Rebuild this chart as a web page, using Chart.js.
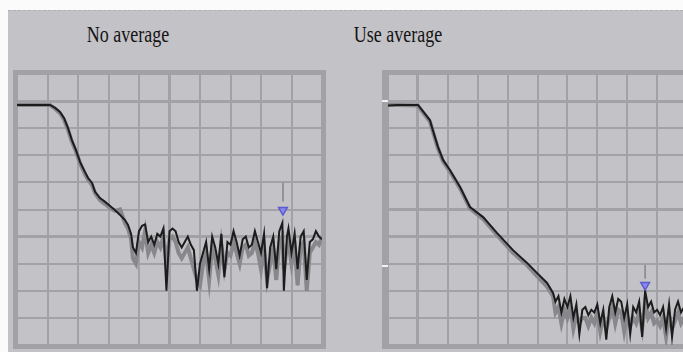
<!DOCTYPE html>
<html>
<head>
<meta charset="utf-8">
<script src="https://cdn.jsdelivr.net/npm/chart.js@4"></script>
<style>
  body { margin: 0; background: #fff; }
  #wrap { position: relative; width: 683px; height: 352px; overflow: hidden; background: #fbfbfb; }
  #panel { position: absolute; left: 8px; top: 10px; width: 680px; height: 342px; background: #c3c2c6; border-top: 1px dashed #b0b0b4; }
  .title { position: absolute; top: 22px; font-family: "Liberation Serif", serif; font-size: 18px; color: #141414; transform: translateX(-50%) scaleY(1.25); transform-origin: 50% 0; white-space: nowrap; }
  .frame { position: absolute; border: 4px solid #a2a1a6; }
  .frame canvas { display: block; }
  .tick { position: absolute; width: 6px; height: 2px; background: #f2f2f2; }
</style>
</head>
<body>
<div id="wrap">
  <div id="panel"></div>
  <div class="title" style="left:128px">No average</div>
  <div class="title" style="left:398px">Use average</div>
  <div class="frame" style="left:13px; top:70px;"><canvas id="left" width="305" height="271"></canvas></div>
  <div class="frame" style="left:382px; top:70px; border-left-width:6px;"><canvas id="right" width="299" height="271"></canvas></div>
  <div class="tick" style="left:382px; top:100px;"></div>
  <div class="tick" style="left:382px; top:265px;"></div>
</div>
<script>
// left panel: no averaging (x in % of span, y in dB)
const leftX = [0, 10.8, 12.5, 14.1, 15.4, 16.7, 18, 19.3, 20.7, 22.3, 23.3, 24.6, 25.6, 27.2, 28.9, 30.5, 32.1, 33.8, 35.4, 36.4, 37.4,
  38, 39, 40, 41, 42, 43, 44, 45, 46, 47, 48, 49, 50, 51, 52, 53, 54, 55, 56, 57, 58, 59, 60, 61, 62, 63, 64, 65, 66, 67, 68, 69,
  70, 71, 72, 73, 74, 75, 76, 77, 78, 79, 80, 81, 82, 83, 84, 85, 86, 87, 87.5, 88.5, 89, 90, 91, 92, 93, 94, 95, 96, 97, 98, 99, 100];
const leftTrace = [-11.4, -11.4, -12.5, -14, -16.2, -19.9, -24.4, -28, -32.5, -36.2, -38.4, -40.2, -43.5, -45.8, -47.2, -48.7, -50.2, -52, -53.9, -55.7, -59,
  -64, -66, -58, -56, -55.5, -62, -60, -63, -59, -60, -57, -80, -58, -57, -58, -62, -64, -62, -60, -63, -65, -80, -70, -66, -62, -72, -60, -64, -70, -59, -75, -62,
  -63, -58, -62, -67, -61, -60, -64, -63, -58, -62, -66, -59, -79, -64, -60, -72, -58, -55, -80, -60, -57, -66, -59, -72, -60, -58, -76, -62, -61, -58, -60, -61];
const leftEnvelope = [-11.4, -11.4, -12.8, -14.5, -16.8, -20.5, -25, -28.5, -33, -37, -39, -41, -44, -46.5, -48, -49.5, -50.5, -50, -55, -57, -61,
  -68, -70, -62, -64, -58, -66, -63, -66, -62, -64, -60, -70, -61, -60, -62, -66, -68, -66, -64, -68, -72, -76, -78, -70, -66, -76, -64, -68, -74, -63, -72, -66,
  -67, -62, -66, -70, -64, -63, -67, -66, -62, -66, -72, -64, -76, -70, -64, -76, -62, -60, -72, -64, -62, -70, -63, -78, -64, -62, -80, -66, -64, -62, -63, -60];
const leftMarker = { x: 87.2, y: -50.2 };
const leftMarkerStem = [-40.2, -47];

// right panel: with averaging
const rightX = [0, 3, 10, 11.4, 14, 15, 16.7, 18.4, 20.7, 24.1, 27.4, 31.8, 36.5, 41.8, 46.5, 49.8, 53.2, 55.2,
  56, 57, 58, 59, 60, 61, 62, 63, 64, 65, 66, 67, 68, 69, 70, 71, 72, 73, 74, 75, 76, 77, 78, 79, 80, 81, 82, 83, 84, 85, 86, 87,
  88, 89, 90, 91, 92, 93, 94, 95, 96, 97, 98, 99, 100];
const rightTrace = [-11.6, -11.4, -11.4, -13.3, -17, -20.7, -26.9, -31.7, -35.4, -41.7, -49.1, -52.8, -58.7, -65, -69.7, -73.4, -77.1, -80.8,
  -84, -82, -88, -83, -86, -82, -90, -85, -96, -87, -86, -89, -87, -88, -85, -92, -87, -98, -86, -82, -88, -83, -84, -90, -85, -96, -86, -88, -84, -97, -80, -86,
  -84, -88, -87, -89, -86, -94, -85, -97, -87, -84, -88, -86, -85];
const rightEnvelope = [-11.4, -11.4, -11.6, -13.8, -17.5, -21.2, -27.4, -32.2, -36, -42.2, -49.6, -53.5, -59.5, -66, -70.5, -74.5, -78.5, -82,
  -88, -86, -92, -87, -90, -86, -94, -89, -92, -90, -90, -93, -90, -92, -88, -95, -90, -94, -90, -86, -92, -87, -88, -95, -89, -93, -90, -92, -88, -94, -84, -90,
  -88, -92, -91, -93, -90, -97, -89, -94, -91, -88, -92, -90, -89];
const rightMarker = { x: 86, y: -77.9 };
const rightMarkerStem = [-70.5, -75.5];

const gridColor = '#a2a1a6';

function pts(xs, ys) {
  return xs.map((x, i) => ({ x: x, y: ys[i] }));
}

function makeChart(id, xs, trace, envelope, marker, stem, thickX, thickY) {
  new Chart(document.getElementById(id), {
    type: 'line',
    data: {
      datasets: [
        { data: [marker], borderColor: '#5a5ad0', backgroundColor: '#8a8ae8', pointStyle: 'triangle',
          pointRotation: 180, pointRadius: 5, pointBorderWidth: 1.5, showLine: false, order: 0 },
        { data: [{ x: marker.x, y: stem[0] }, { x: marker.x, y: stem[1] }], borderColor: '#8c8c90',
          borderWidth: 1, pointRadius: 0, order: 1 },
        { data: pts(xs, trace), borderColor: '#1c1c1c', borderWidth: 2, pointRadius: 0, tension: 0, order: 2 },
        { data: pts(xs, envelope), borderColor: '#88888c', borderWidth: 4, pointRadius: 0, tension: 0, order: 3 }
      ]
    },
    options: {
      responsive: false,
      animation: false,
      events: [],
      layout: { padding: 0, autoPadding: false },
      plugins: { legend: { display: false }, tooltip: { enabled: false } },
      scales: {
        x: {
          type: 'linear', min: 0, max: 100,
          ticks: { display: false, stepSize: 10 },
          border: { display: false },
          grid: { color: gridColor, drawTicks: false,
                  lineWidth: c => (thickX.includes(c.tick.value) ? 3 : 2) }
        },
        y: {
          type: 'linear', min: -100, max: 0,
          ticks: { display: false, stepSize: 10 },
          border: { display: false },
          grid: { color: gridColor, drawTicks: false,
                  lineWidth: c => (thickY.includes(c.tick.value) ? 3 : 2) }
        }
      }
    }
  });
}

makeChart('left', leftX, leftTrace, leftEnvelope, leftMarker, leftMarkerStem, [50], [-10, -60]);
makeChart('right', rightX, rightTrace, rightEnvelope, rightMarker, rightMarkerStem, [10], [-10, -50, -60]);
</script>
</body>
</html>
